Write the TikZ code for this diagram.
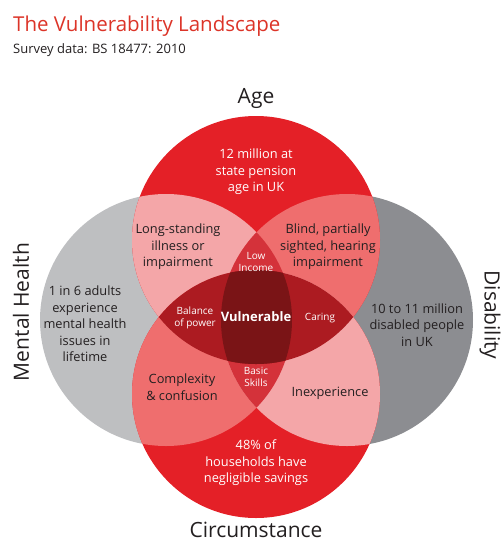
\documentclass[tikz,border=0pt]{standalone}
\usepackage{fontspec}
\setmainfont{Open Sans}
\definecolor{redmain}{RGB}{228,32,39}
\definecolor{pinklight}{RGB}{244,166,168}
\definecolor{salmon}{RGB}{239,110,110}
\definecolor{rosemid}{RGB}{212,50,58}
\definecolor{darkred}{RGB}{172,27,33}
\definecolor{deepred}{RGB}{122,20,22}
\definecolor{greylight}{RGB}{190,191,193}
\definecolor{greydark}{RGB}{140,141,145}
\definecolor{titlered}{RGB}{220,52,40}
\definecolor{darktext}{RGB}{35,31,32}
\tikzset{
  lbl/.style={align=center, text=darktext, inner sep=0pt,
    font=\fontsize{12.8}{16.5}\selectfont},
  wlbl/.style={lbl, text=white},
  smalllbl/.style={wlbl, font=\fontsize{10}{11.5}\selectfont},
  head/.style={text=darktext, inner sep=0pt, font=\fontsize{21}{24}\selectfont},
}
\begin{document}
\begin{tikzpicture}[x=1pt,y=-1pt]
  \useasboundingbox (0,0) rectangle (502,542);
  % the four sets
  \def\agecirc{(256,240) circle (124pt)}
  \def\circcirc{(256,394) circle (124pt)}
  \def\mentcirc{(166,320) circle (126pt)}
  \def\disacirc{(347,320) circle (126pt)}

  % Draw the grey circles first, then the red ones on top
  \fill[greylight] \mentcirc;
  \fill[greydark] \disacirc;
  \fill[redmain] \agecirc;
  \fill[redmain] \circcirc;

  % two-set overlaps
  \begin{scope}
    \clip \agecirc;
    \fill[pinklight] \mentcirc;
    \fill[salmon] \disacirc;
  \end{scope}
  \begin{scope}
    \clip \circcirc;
    \fill[salmon] \mentcirc;
    \fill[pinklight] \disacirc;
  \end{scope}

  % three-set overlaps (Low Income, Basic Skills)
  \begin{scope}
    \clip \mentcirc;
    \clip \disacirc;
    \fill[rosemid] \agecirc;
    \fill[rosemid] \circcirc;
  \end{scope}

  % Age and Circumstance lens
  \begin{scope}
    \clip \agecirc;
    \clip \circcirc;
    \fill[darkred] \mentcirc;
    \fill[darkred] \disacirc;
    \clip \mentcirc;
    \fill[deepred] \disacirc;
  \end{scope}

  % titles
  \node[anchor=base west, inner sep=0pt, text=titlered,
    font=\fontsize{20.5}{24}\selectfont] (title) at (13,31)
    {The Vulnerability Landscape};
  \node[anchor=base west, inner sep=0pt, text=darktext,
    font=\fontsize{13}{16}\selectfont] (survey) at (13,53)
    {Survey data: BS 18477: 2010};

  % set names
  \node[head, anchor=base] (age) at (256,103) {Age};
  \node[head, anchor=base] (circumstance) at (256,537) {Circumstance};
  \node[head, rotate=90] (mental) at (21,312) {Mental Health};
  \node[head, rotate=-90] (disability) at (490,315) {Disability};

  % labels inside the regions
  \node[wlbl] (pension) at (256,172) {12 million at\\state pension\\age in UK};
  \node[lbl] (longstanding) at (178,247) {Long-standing\\illness or\\impairment};
  \node[lbl] (blind) at (328,247) {Blind, partially\\sighted, hearing\\impairment};
  \node[smalllbl] (lowincome) at (256,262) {Low\\Income};
  \node[smalllbl] (balance) at (195,318) {Balance\\of power};
  \node[wlbl, font=\bfseries\fontsize{13}{16}\selectfont] (vulnerable) at (256,317) {Vulnerable};
  \node[smalllbl] (caring) at (320,318) {Caring};
  \node[smalllbl] (basic) at (256,377) {Basic\\Skills};
  \node[lbl] (complexity) at (182,387) {Complexity\\\& confusion};
  \node[lbl] (inexperience) at (330,393) {Inexperience};
  \node[lbl] (mentaltxt) at (85,324) {1 in 6 adults\\experience\\mental health\\issues in\\lifetime};
  \node[lbl] (disabledtxt) at (417,325) {10 to 11 million\\disabled people\\in UK};
  \node[wlbl] (savings) at (256,463) {48\% of\\households have\\negligible savings};
\end{tikzpicture}
\end{document}
